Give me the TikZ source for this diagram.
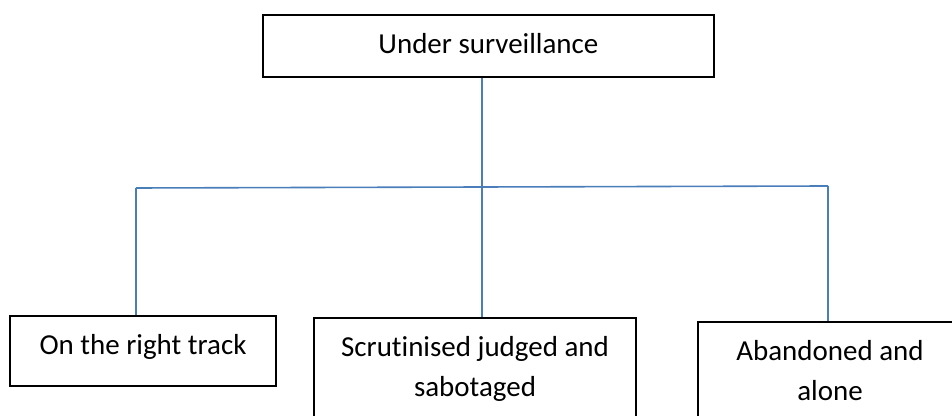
\documentclass[tikz,border=0pt]{standalone}
\usepackage{fontspec}
\setmainfont{Carlito}[Ligatures=NoCommon]
\usepackage{tikz}
\usetikzlibrary{positioning}
\definecolor{linkblue}{HTML}{4A7EBB}

\begin{document}
\begin{tikzpicture}[
            box/.style={draw=black, rectangle, line width=0.04cm, anchor=north, align=center,
                inner xsep=0pt, inner ysep=0.475cm,
                font=\fontsize{20.6}{28.4}\selectfont},
            link/.style={draw=linkblue, line width=0.04cm}]
            \clip (0,0) rectangle (23.8,-10.4);
            \useasboundingbox (0,0) rectangle (23.8,-10.4);

            \node[box, minimum width=11.275cm, text depth=0.1cm] (surv) at (12.21,-0.35) {Under surveillance};
            \node[box, minimum width=6.65cm, text depth=0.3cm] (track) at (3.575,-7.875) {On the right track};
            \node[box, minimum width=8.05cm] (judged) at (11.875,-7.925) {Scrutinised judged and\\sabotaged};
            \node[box, minimum width=6.6cm] (alone) at (20.75,-8.025) {Abandoned and\\alone};

            \coordinate (barL) at (3.4,-4.7);
            \coordinate (hub) at (12.05,-4.675);
            \coordinate (barR) at (20.7,-4.65);

            \draw[link] (surv.south -| hub) -- (hub |- judged.north);
            \draw[link] (barL) -- (barR);
            \draw[link] (barL) -- (barL |- track.north);
            \draw[link] (barR) -- (barR |- alone.north);
        \end{tikzpicture}
\end{document}
